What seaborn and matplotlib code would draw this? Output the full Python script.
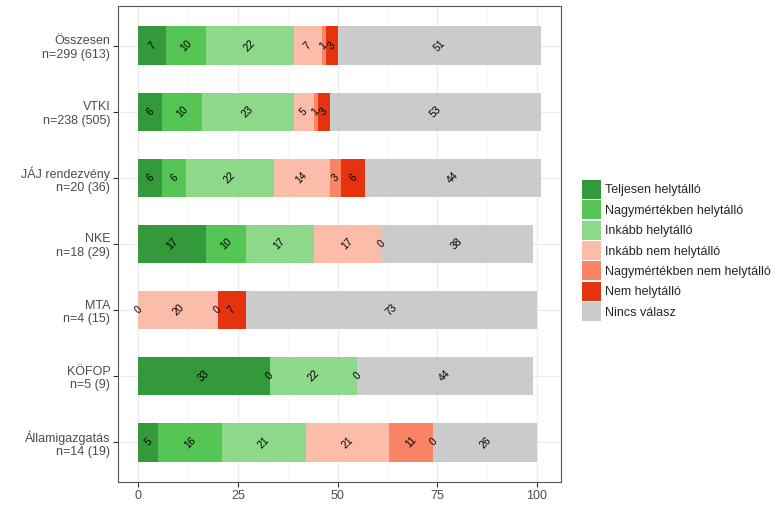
import numpy as np
import pandas as pd
import matplotlib
matplotlib.use('Agg')
import matplotlib.pyplot as plt
from matplotlib.patches import Patch
from matplotlib.ticker import MultipleLocator
import seaborn as sns

categories = ["Összesen\nn=299 (613)", "VTKI\nn=238 (505)", "JÁJ rendezvény\nn=20 (36)",
              "NKE\nn=18 (29)", "MTA\nn=4 (15)", "KÖFOP\nn=5 (9)", "Államigazgatás\nn=14 (19)"]
series_names = ["Teljesen helytálló", "Nagymértékben helytálló", "Inkább helytálló",
                "Inkább nem helytálló", "Nagymértékben nem helytálló", "Nem helytálló", "Nincs válasz"]
teljesen = [7, 6, 6, 17, 0, 33, 5]
nagy = [10, 10, 6, 10, 0, 0, 16]
inkabb = [22, 23, 22, 17, 0, 22, 21]
inkabb_nem = [7, 5, 14, 17, 20, 0, 21]
nagy_nem = [1, 1, 3, 0, 0, 0, 11]
nem = [3, 3, 6, 0, 7, 0, 0]
nincs = [51, 53, 44, 38, 73, 44, 26]
colors = ["#33993a", "#55c555", "#8ed88a", "#fcbcaa", "#fc8466", "#e6330f", "#cbcbcb"]

sns.set_theme(style='white')
plt.rcParams['font.family'] = ['Liberation Sans', 'DejaVu Sans']

fig = plt.figure(figsize=(7.78, 5.19), dpi=100)
ax = fig.add_axes([118/778, 1-482/519, (561-118)/778, (482-6)/519])

values = np.array([teljesen, nagy, inkabb, inkabb_nem, nagy_nem, nem, nincs])
cum = np.cumsum(values, axis=0)
df = pd.DataFrame({'category': categories})
for i in reversed(range(len(series_names))):
    df['end'] = cum[i]
    sns.barplot(data=df, x='end', y='category', orient='h', color=colors[i], width=0.58,
                saturation=1, errorbar=None, ax=ax, zorder=2, linewidth=0)

drawn = set()
for i in range(len(series_names)):
    start = cum[i] - values[i]
    for j, v in enumerate(values[i]):
        key = (j, float(start[j] + v/2), int(v))
        if key in drawn:
            continue
        drawn.add(key)
        ax.text(start[j] + v/2, j, str(v), rotation=45, rotation_mode='anchor',
                ha='center', va='center', fontsize=7.5, color='black', zorder=3)

ax.set_xlim(-5.05, 106.05)
ax.set_ylim(6.6, -0.6)
ax.set_xticks([0, 25, 50, 75, 100])
ax.xaxis.set_minor_locator(MultipleLocator(12.5))
ax.grid(True, which='major', color='#ebebeb', linewidth=0.8)
ax.grid(True, which='minor', axis='x', color='#f4f4f4', linewidth=0.5)
ax.yaxis.grid(True, which='major', color='#ebebeb', linewidth=0.8)
ax.set_axisbelow(True)
for s in ax.spines.values():
    s.set_color('#555555')
    s.set_linewidth(0.8)
    s.set_visible(True)
ax.tick_params(axis='both', which='major', length=3.5, width=0.8, color='#333333',
               labelsize=9, labelcolor='#4d4d4d', pad=2, left=True, bottom=True)
ax.tick_params(which='minor', length=0)
ax.set_xlabel('')
ax.set_ylabel('')
for lbl in ax.get_yticklabels():
    lbl.set_linespacing(1.15)

handles = [Patch(facecolor=c, edgecolor='none', label=n) for c, n in zip(colors, series_names)]
fig.legend(handles=handles, loc='upper left', bbox_to_anchor=(582/778, 1-180/519), frameon=False,
           fontsize=9, handlelength=1.52, handleheight=1.96, labelspacing=0.11,
           handletextpad=0.3, borderpad=0, borderaxespad=0)

fig.savefig('out.png', dpi=100)
